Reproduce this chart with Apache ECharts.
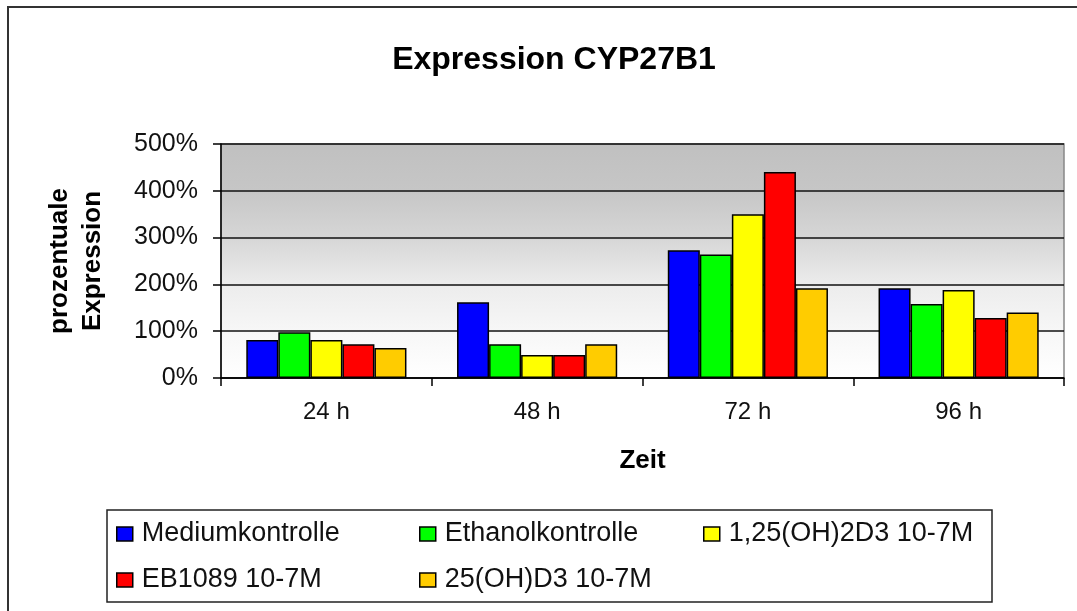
<!DOCTYPE html>
<html>
<head>
<meta charset="utf-8">
<script src="https://cdn.jsdelivr.net/npm/echarts@6/dist/echarts.min.js"></script>
<style>
  html, body { margin: 0; padding: 0; background: #fff; }
  #chart { width: 1077px; height: 611px; }
</style>
</head>
<body>
<div id="chart"></div>
<script>
// Werte in Prozent
const categories = ["24 h", "48 h", "72 h", "96 h"];
const seriesNames = ["Mediumkontrolle", "Ethanolkontrolle", "1,25(OH)2D3 10-7M", "EB1089 10-7M", "25(OH)D3 10-7M"];
const mediumkontrolle = [81, 162, 273, 192];
const ethanolkontrolle = [98, 72, 264, 158];
const calcitriol = [81, 49, 350, 188];
const eb1089 = [72, 49, 440, 128];
const calcidiol = [64, 72, 192, 140];
const yTicks = [0, 100, 200, 300, 400, 500];

const colors = ["#0000ff", "#00ff00", "#ffff00", "#ff0000", "#ffcc00"];
const values = [mediumkontrolle, ethanolkontrolle, calcitriol, eb1089, calcidiol];

// Legende: feste Spalten wie im Original (3 pro Zeile)
const legendLeft = [116, 419, 703, 116, 419];
const legendTop = [519, 519, 519, 565, 565];

const font = "Liberation Sans, Arial, sans-serif";

let myChart = echarts.init(document.getElementById("chart"));

myChart.setOption({
  animation: false,
  color: colors,
  title: {
    text: "Expression CYP27B1",
    left: 549,
    textAlign: "center",
    top: 39,
    textStyle: { fontFamily: font, fontSize: 32, fontWeight: "bold", color: "#000" }
  },
  grid: {
    left: 221,
    right: 13,
    top: 144,
    bottom: 233,
    show: true,
    borderColor: "#888",
    borderWidth: 1.5,
    backgroundColor: {
      type: "linear", x: 0, y: 0, x2: 0, y2: 1,
      colorStops: [
        { offset: 0, color: "#c0c0c0" },
        { offset: 0.2, color: "#c6c6c6" },
        { offset: 0.4, color: "#d6d6d6" },
        { offset: 0.6, color: "#ececec" },
        { offset: 0.8, color: "#f7f7f7" },
        { offset: 1, color: "#ffffff" }
      ]
    }
  },
  legend: seriesNames.map(function (name, i) {
    return {
      data: [name],
      left: legendLeft[i],
      top: legendTop[i],
      padding: 0,
      itemWidth: 16,
      itemHeight: 14,
      icon: "rect",
      itemStyle: { borderColor: "#000", borderWidth: 1.5 },
      textStyle: { fontFamily: font, fontSize: 27, lineHeight: 30, color: "#111", padding: [0, 0, 0, 4] }
    };
  }),
  xAxis: {
    type: "category",
    data: categories,
    name: "Zeit",
    nameLocation: "middle",
    nameGap: 70,
    nameTextStyle: { fontFamily: font, fontSize: 26, fontWeight: "bold", color: "#000" },
    axisLine: { lineStyle: { color: "#000", width: 1.5 } },
    axisTick: { show: true, length: 8, lineStyle: { color: "#000", width: 1.5 } },
    axisLabel: { fontFamily: font, fontSize: 24, color: "#111", margin: 22 }
  },
  yAxis: {
    type: "value",
    min: 0,
    max: 500,
    interval: 100,
    name: "prozentuale\nExpression",
    nameLocation: "middle",
    nameGap: 112,
    nameRotate: 90,
    nameTextStyle: { fontFamily: font, fontSize: 26, fontWeight: "bold", color: "#000", lineHeight: 33 },
    axisLine: { show: true, lineStyle: { color: "#000", width: 1.5 } },
    axisTick: { show: true, length: 8, inside: false, lineStyle: { color: "#000", width: 1.5 } },
    axisLabel: {
      fontFamily: font, fontSize: 25, color: "#111", margin: 23,
      formatter: function (v) { return yTicks.indexOf(v) >= 0 ? v + "%" : ""; }
    },
    splitLine: { show: true, lineStyle: { color: "#111", width: 1.5 } }
  },
  graphic: [
    {
      type: "rect",
      shape: { x: 8, y: 7, width: 1100, height: 640 },
      style: { fill: "none", stroke: "#333", lineWidth: 2 },
      silent: true
    },
    {
      type: "rect",
      shape: { x: 107, y: 510, width: 885, height: 92 },
      style: { fill: "none", stroke: "#222", lineWidth: 1.5 },
      silent: true
    }
  ],
  series: seriesNames.map(function (name, i) {
    return {
      name: name,
      type: "bar",
      barGap: "0%",
      barCategoryGap: "24%",
      itemStyle: { color: colors[i], borderColor: "#000", borderWidth: 1.5 },
      data: values[i]
    };
  })
});
</script>
</body>
</html>
